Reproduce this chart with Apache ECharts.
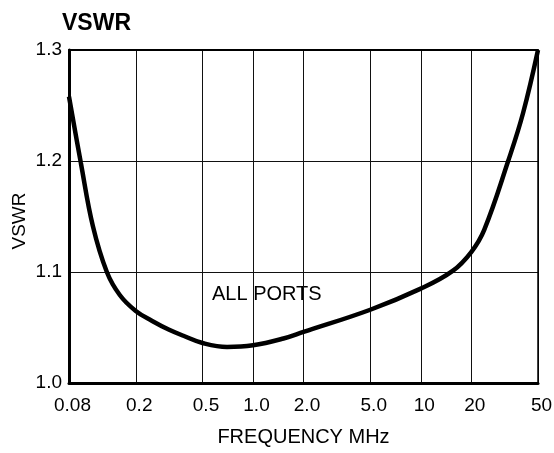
<!DOCTYPE html>
<html>
<head>
<meta charset="utf-8">
<script src="https://cdn.jsdelivr.net/npm/echarts@6/dist/echarts.min.js"></script>
<style>html,body{margin:0;padding:0;background:#fff}#c{width:554px;height:453px}</style>
</head>
<body>
<div id="c"></div>
<script>
var title = 'VSWR';
var yName = 'VSWR';
var xName = 'FREQUENCY MHz';
var note = 'ALL PORTS';
var freqTicks = [0.08, 0.2, 0.5, 1, 2, 5, 10, 20, 50];
var freqTickLabels = ['0.08', '0.2', '0.5', '1.0', '2.0', '5.0', '10', '20', '50'];
var freqMHz = [0.08, 0.0942, 0.111, 0.1345, 0.1606, 0.2, 0.2506, 0.314, 0.394, 0.5, 0.7, 1.0, 1.52, 2.0, 5.0, 10, 15.5, 20, 23.9, 33.2, 40.7, 50];
var vswr    = [1.258, 1.198, 1.1414, 1.100, 1.0793, 1.0649, 1.0559, 1.0482, 1.0419, 1.0360, 1.0325, 1.0340, 1.0401, 1.046, 1.066, 1.085, 1.101, 1.118, 1.138, 1.200, 1.243, 1.300];

var FONT = '"Liberation Sans", Arial, sans-serif';
var chart = echarts.init(document.getElementById('c'), null, {renderer: 'canvas'});
var pts = freqMHz.map(function (f, i) { return [f, vswr[i]]; });

chart.setOption({
  animation: false,
  backgroundColor: '#fff',
  title: {
    text: title, left: 57, top: 7,
    textStyle: {fontFamily: FONT, fontSize: 23, fontWeight: 'bold', color: '#000'}
  },
  grid: {left: 69, right: 16, top: 50, bottom: 70, outerBoundsMode: 'none', containLabel: false},
  xAxis: [{
    type: 'log', logBase: 10, min: 0.08, max: 50,
    name: xName, nameLocation: 'middle', nameGap: 44, nameMoveOverlap: false,
    nameTextStyle: {fontFamily: FONT, fontSize: 20, color: '#000'},
    axisLine: {show: true, lineStyle: {color: '#000', width: 3}},
    axisTick: {show: false, customValues: freqTicks},
    axisLabel: {
      customValues: freqTicks, margin: 13, fontFamily: FONT, fontSize: 19, color: '#000',
      padding: [0, 0, 0, 7],
      formatter: function (v) {
        for (var i = 0; i < freqTicks.length; i++) {
          if (Math.abs(freqTicks[i] - v) / freqTicks[i] < 1e-3) return freqTickLabels[i];
        }
        return '';
      }
    },
    splitLine: {show: true, lineStyle: {color: '#111', width: 1}},
    minorSplitLine: {show: false}
  }, {
    type: 'log', logBase: 10, min: 0.08, max: 50, position: 'top',
    axisLine: {show: true, lineStyle: {color: '#000', width: 2}},
    axisTick: {show: false}, axisLabel: {show: false}, splitLine: {show: false}
  }],
  yAxis: [{
    type: 'value', min: 1.0, max: 1.3, interval: 0.1,
    name: yName, nameLocation: 'middle', nameGap: 40, nameRotate: 90, nameMoveOverlap: false,
    nameTextStyle: {fontFamily: FONT, fontSize: 19, color: '#000', padding: [0, 9, 0, 0]},
    axisLine: {show: true, lineStyle: {color: '#000', width: 3}},
    axisTick: {show: false},
    axisLabel: {margin: 7, fontFamily: FONT, fontSize: 19, color: '#000',
      formatter: function (v) { return v.toFixed(1); }},
    splitLine: {show: true, lineStyle: {color: '#111', width: 1}}
  }, {
    type: 'value', min: 1.0, max: 1.3, interval: 0.1, position: 'right',
    axisLine: {show: true, lineStyle: {color: '#000', width: 1.5}},
    axisTick: {show: false}, axisLabel: {show: false}, splitLine: {show: false}
  }],
  graphic: [{
    type: 'text', left: 212, top: 284,
    style: {text: note, fontFamily: FONT, fontSize: 20, fill: '#000'}
  }],
  series: [{
    type: 'line', xAxisIndex: 0, yAxisIndex: 0,
    data: pts, smooth: 0.4, showSymbol: false, symbol: 'none',
    lineStyle: {color: '#000', width: 4.5}
  }]
});
</script>
</body>
</html>
